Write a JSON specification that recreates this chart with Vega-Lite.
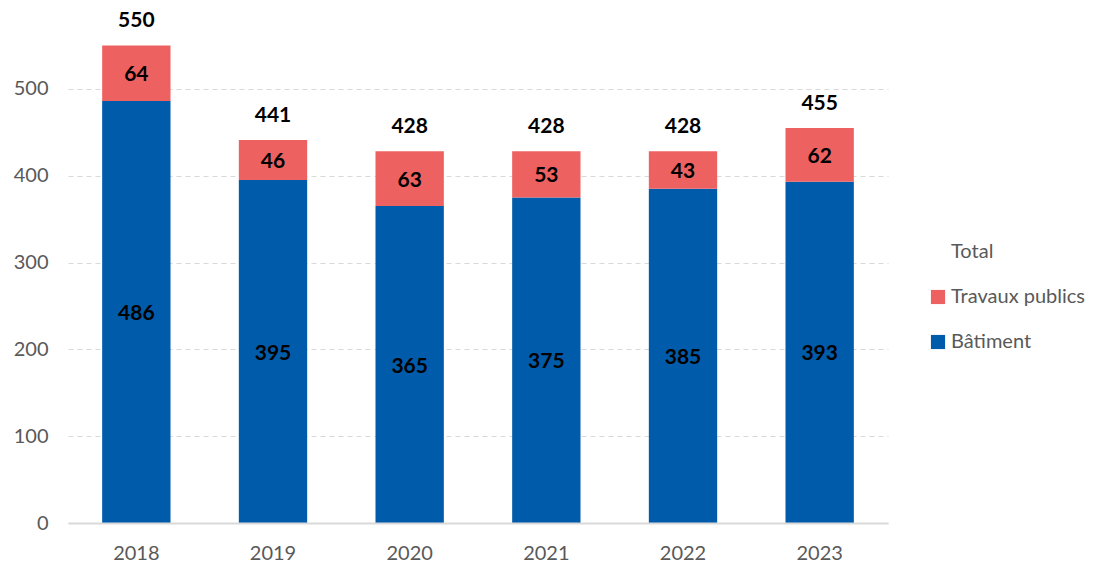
{
  "$schema": "https://vega.github.io/schema/vega-lite/v6.json",
  "width": 820,
  "height": 521,
  "autosize": {"type": "none"},
  "padding": {"left": 68, "top": 2, "right": 217, "bottom": 44},
  "background": "white",
  "config": {
    "view": {"stroke": null},
    "font": "Lato"
  },
  "data": {
    "values": [
      {"year": "2018", "cat": "Bâtiment", "order": 1, "value": 486},
      {"year": "2018", "cat": "Travaux publics", "order": 2, "value": 64},
      {"year": "2019", "cat": "Bâtiment", "order": 1, "value": 395},
      {"year": "2019", "cat": "Travaux publics", "order": 2, "value": 46},
      {"year": "2020", "cat": "Bâtiment", "order": 1, "value": 365},
      {"year": "2020", "cat": "Travaux publics", "order": 2, "value": 63},
      {"year": "2021", "cat": "Bâtiment", "order": 1, "value": 375},
      {"year": "2021", "cat": "Travaux publics", "order": 2, "value": 53},
      {"year": "2022", "cat": "Bâtiment", "order": 1, "value": 385},
      {"year": "2022", "cat": "Travaux publics", "order": 2, "value": 43},
      {"year": "2023", "cat": "Bâtiment", "order": 1, "value": 393},
      {"year": "2023", "cat": "Travaux publics", "order": 2, "value": 62}
    ]
  },
  "transform": [
    {"stack": "value", "groupby": ["year"], "sort": [{"field": "order"}], "as": ["v0", "v1"]},
    {"calculate": "(datum.v0 + datum.v1) / 2", "as": "mid"}
  ],
  "encoding": {
    "x": {
      "field": "year",
      "type": "ordinal",
      "scale": {"paddingInner": 0.5, "paddingOuter": 0.25},
      "axis": {
        "title": null,
        "labelAngle": 0,
        "labelFontSize": 20,
        "labelColor": "#595959",
        "labelPadding": 20,
        "ticks": false,
        "domainColor": "#d9d9d9",
        "domainWidth": 2,
        "zindex": 2
      }
    }
  },
  "layer": [
    {
      "mark": {"type": "bar"},
      "encoding": {
        "y": {
          "field": "v1",
          "type": "quantitative",
          "scale": {"domain": [0, 600], "nice": false},
          "axis": {
            "title": null,
            "values": [0, 100, 200, 300, 400, 500],
            "labelFontSize": 20,
            "labelColor": "#595959",
            "labelPadding": 20,
            "ticks": false,
            "domain": false,
            "gridColor": "#d9d9d9",
            "gridDash": [5, 4],
            "gridWidth": 1
          }
        },
        "y2": {"field": "v0"},
        "color": {
          "field": "cat",
          "type": "nominal",
          "scale": {
            "domain": ["Total", "Travaux publics", "Bâtiment"],
            "range": ["rgba(0,0,0,0)", "#EE6161", "#005BAA"]
          },
          "legend": {
            "title": null,
            "orient": "none",
            "legendX": 860,
            "legendY": 240,
            "symbolType": "square",
            "symbolSize": 200,
            "symbolStrokeWidth": 0,
            "labelFontSize": 20,
            "labelColor": "#595959",
            "labelOffset": 3,
            "rowPadding": 25
          }
        }
      }
    },
    {
      "mark": {"type": "text", "fontSize": 21, "fontWeight": "bold", "color": "black", "baseline": "middle", "dy": 2},
      "encoding": {
        "y": {"field": "mid", "type": "quantitative"},
        "text": {"field": "value", "type": "quantitative"}
      }
    },
    {
      "mark": {"type": "text", "fontSize": 21, "fontWeight": "bold", "color": "black", "baseline": "middle", "dy": -24},
      "encoding": {
        "y": {"aggregate": "sum", "field": "value", "type": "quantitative"},
        "text": {"aggregate": "sum", "field": "value", "type": "quantitative"}
      }
    }
  ]
}
